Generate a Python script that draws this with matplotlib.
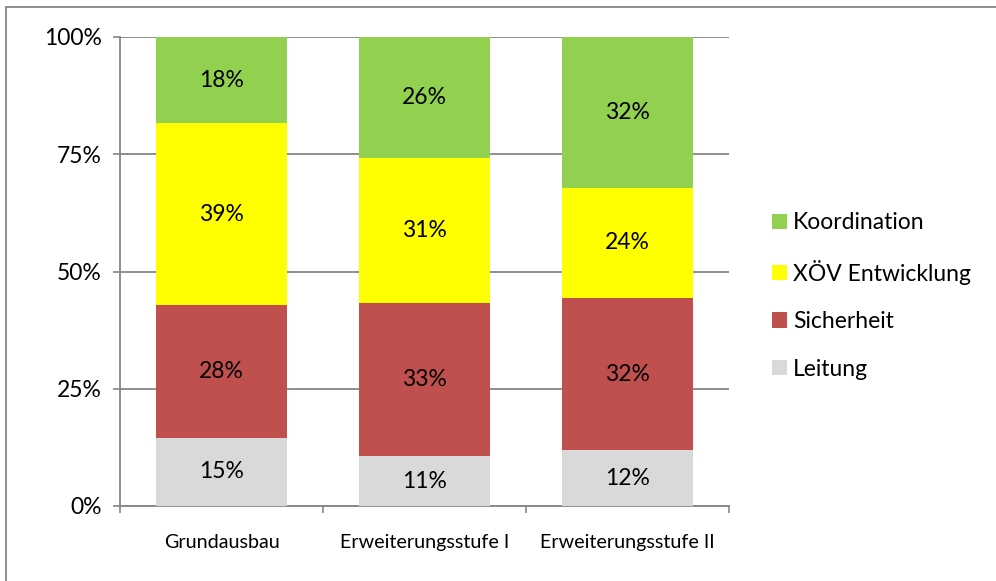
import matplotlib
matplotlib.use("Agg")
import matplotlib.pyplot as plt
from matplotlib.patches import Rectangle, Patch
import numpy as np

plt.rcParams['font.family'] = ['Lato', 'DejaVu Sans']

categories = ["Grundausbau", "Erweiterungsstufe I", "Erweiterungsstufe II"]
series_names = ["Leitung", "Sicherheit", "XÖV Entwicklung", "Koordination"]
leitung = [14.6, 10.6, 11.9]
sicherheit = [28.2, 32.6, 32.4]
xoev = [38.8, 31.0, 23.6]
koordination = [18.4, 25.8, 32.1]
series_values = [leitung, sicherheit, xoev, koordination]
colors = ["#D9D9D9", "#C0504D", "#FFFF00", "#92D050"]
y_ticks = [0, 25, 50, 75, 100]

W, H = 996, 581
fig = plt.figure(figsize=(W / 100, H / 100), dpi=100)
ax = fig.add_axes([120 / W, 1 - 506 / H, (729 - 120) / W, (506 - 37) / H])

FS = 16.5

x = np.arange(len(categories))
bottom = np.zeros(len(categories))
for name, vals, c in zip(series_names, series_values, colors):
    ax.bar(x, vals, 0.645, bottom=bottom, color=c, label=name, zorder=3, linewidth=0)
    for xi, v, bt in zip(x, vals, bottom):
        ax.text(xi, bt + v / 2, f"{round(v):d}%", ha="center", va="center", fontsize=FS, color="black", zorder=4)
    bottom = bottom + np.array(vals)

ax.set_xlim(-0.5, 2.5)
ax.set_ylim(0, 100)
ax.set_yticks(y_ticks)
ax.set_yticklabels([f"{t}%" for t in y_ticks], fontsize=FS)
ax.yaxis.grid(True, color="#868686", linewidth=1.3, zorder=0)
ax.set_axisbelow(True)

ax.set_xticks([-0.5, 0.5, 1.5, 2.5], minor=False)
ax.set_xticklabels([])
ax.set_xticks(x, minor=True)
ax.set_xticklabels(categories, minor=True, fontsize=14.2)
ax.tick_params(axis="x", which="minor", length=0, pad=20)
ax.tick_params(axis="x", which="major", length=5, width=1.2, color="#868686", direction="out")
ax.tick_params(axis="y", length=5, width=1.2, color="#868686", direction="out", pad=8)

for s in ["top", "right"]:
    ax.spines[s].set_visible(False)
for s in ["left", "bottom"]:
    ax.spines[s].set_color("#868686")
    ax.spines[s].set_linewidth(1.3)

handles = [Patch(facecolor=c, edgecolor="none") for c in colors]
fig.legend(handles[::-1], series_names[::-1], loc="center left",
           bbox_to_anchor=(772 / W, 1 - 296 / H), frameon=False,
           fontsize=FS, handlelength=0.65, handleheight=0.65,
           handletextpad=0.26, labelspacing=1.15, borderpad=0, borderaxespad=0)

border = Rectangle((6 / W, -0.05), 1.2, 1 - 7 / H + 0.05, transform=fig.transFigure,
                   fill=False, edgecolor="#868686", linewidth=1.3, clip_on=False)
fig.patches.append(border)

fig.savefig("out.png", dpi=100, facecolor="white")
